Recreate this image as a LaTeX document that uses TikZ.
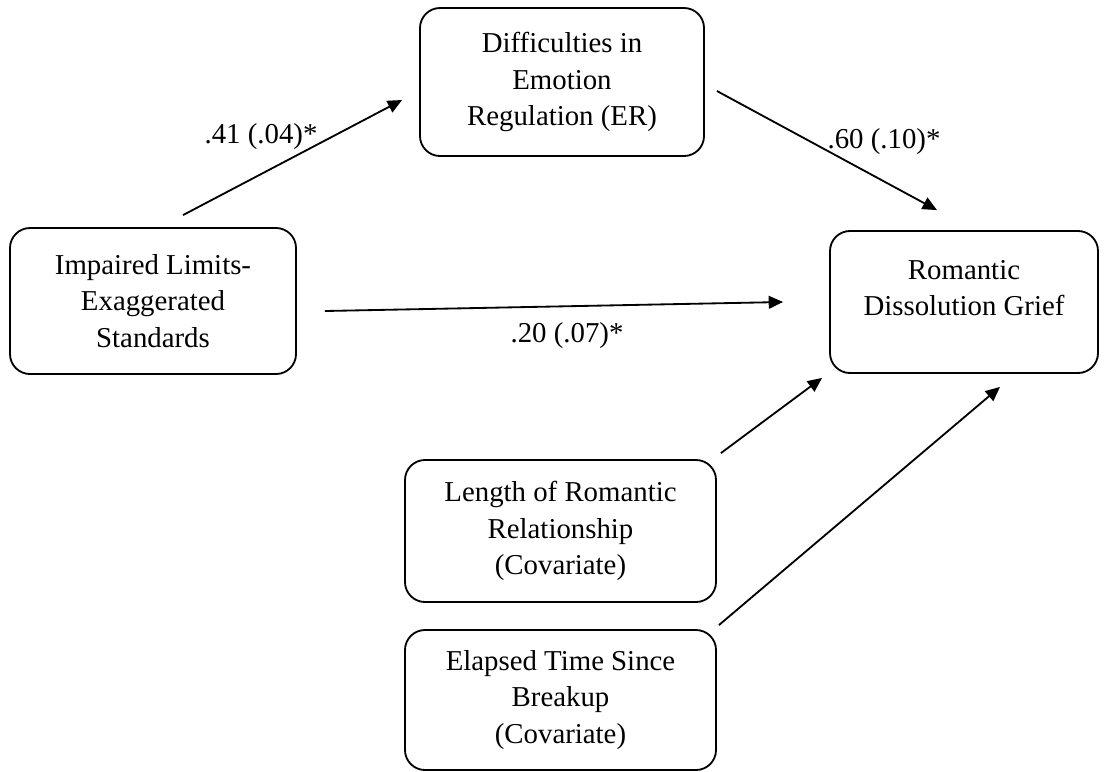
\documentclass[tikz,border=0pt]{standalone}
\usepackage{fontspec}
\setmainfont{Liberation Serif}
\usetikzlibrary{arrows.meta}

\tikzset{
  varbox/.style={draw,line width=1.3pt,rounded corners=5mm,align=center,
                 inner sep=0pt,font=\fontsize{20.5}{26}\selectfont},
  coef/.style={inner sep=0pt,font=\fontsize{20.5}{26}\selectfont},
  effect/.style={-{Triangle[length=3.6mm,width=3.2mm]},line width=1.3pt}
}

\begin{document}
\begin{tikzpicture}[x=0.25mm,y=-0.25mm]
  \useasboundingbox (0,0) rectangle (1107,771);
  % variables
  \node[varbox,minimum width=71mm,minimum height=37mm] (ER) at (562,82)
    {Difficulties in\\Emotion\\Regulation (ER)};
  \node[varbox,minimum width=71.5mm,minimum height=36.5mm] (ILES) at (153,301)
    {Impaired Limits-\\Exaggerated\\Standards};
  \node[varbox,minimum width=67mm,minimum height=35.5mm] (RDG) at (964,302)
    {Romantic\\Dissolution Grief\\[-6pt]\mbox{}};
  \node[varbox,minimum width=77.75mm,minimum height=35.5mm] (LEN) at (560.5,531)
    {Length of Romantic\\Relationship\\(Covariate)};
  \node[varbox,minimum width=77.75mm,minimum height=35mm] (ELA) at (560.5,700)
    {Elapsed Time Since\\Breakup\\(Covariate)};
  % paths
  \draw[effect] ([shift={(30,-12)}]ILES.north) -- ([shift={(-17,18)}]ER.west);
  \draw[effect] ([shift={(12,9)}]ER.east) -- ([shift={(-27,-20)}]RDG.north);
  \draw[effect] ([shift={(28,10)}]ILES.east) -- ([shift={(-46,0)}]RDG.west);
  \draw[effect] ([shift={(4,-6)}]LEN.north east) -- ([shift={(-7,4)}]RDG.south west);
  \draw[effect] ([shift={(2,-4)}]ELA.north east) -- ([shift={(36,13)}]RDG.south);
  % coefficients
  \node[coef] (a41) at (261,137) {.41 (.04)*};
  \node[coef] (b60) at (884,142) {.60 (.10)*};
  \node[coef] (c20) at (567,336) {.20 (.07)*};
\end{tikzpicture}
\end{document}
